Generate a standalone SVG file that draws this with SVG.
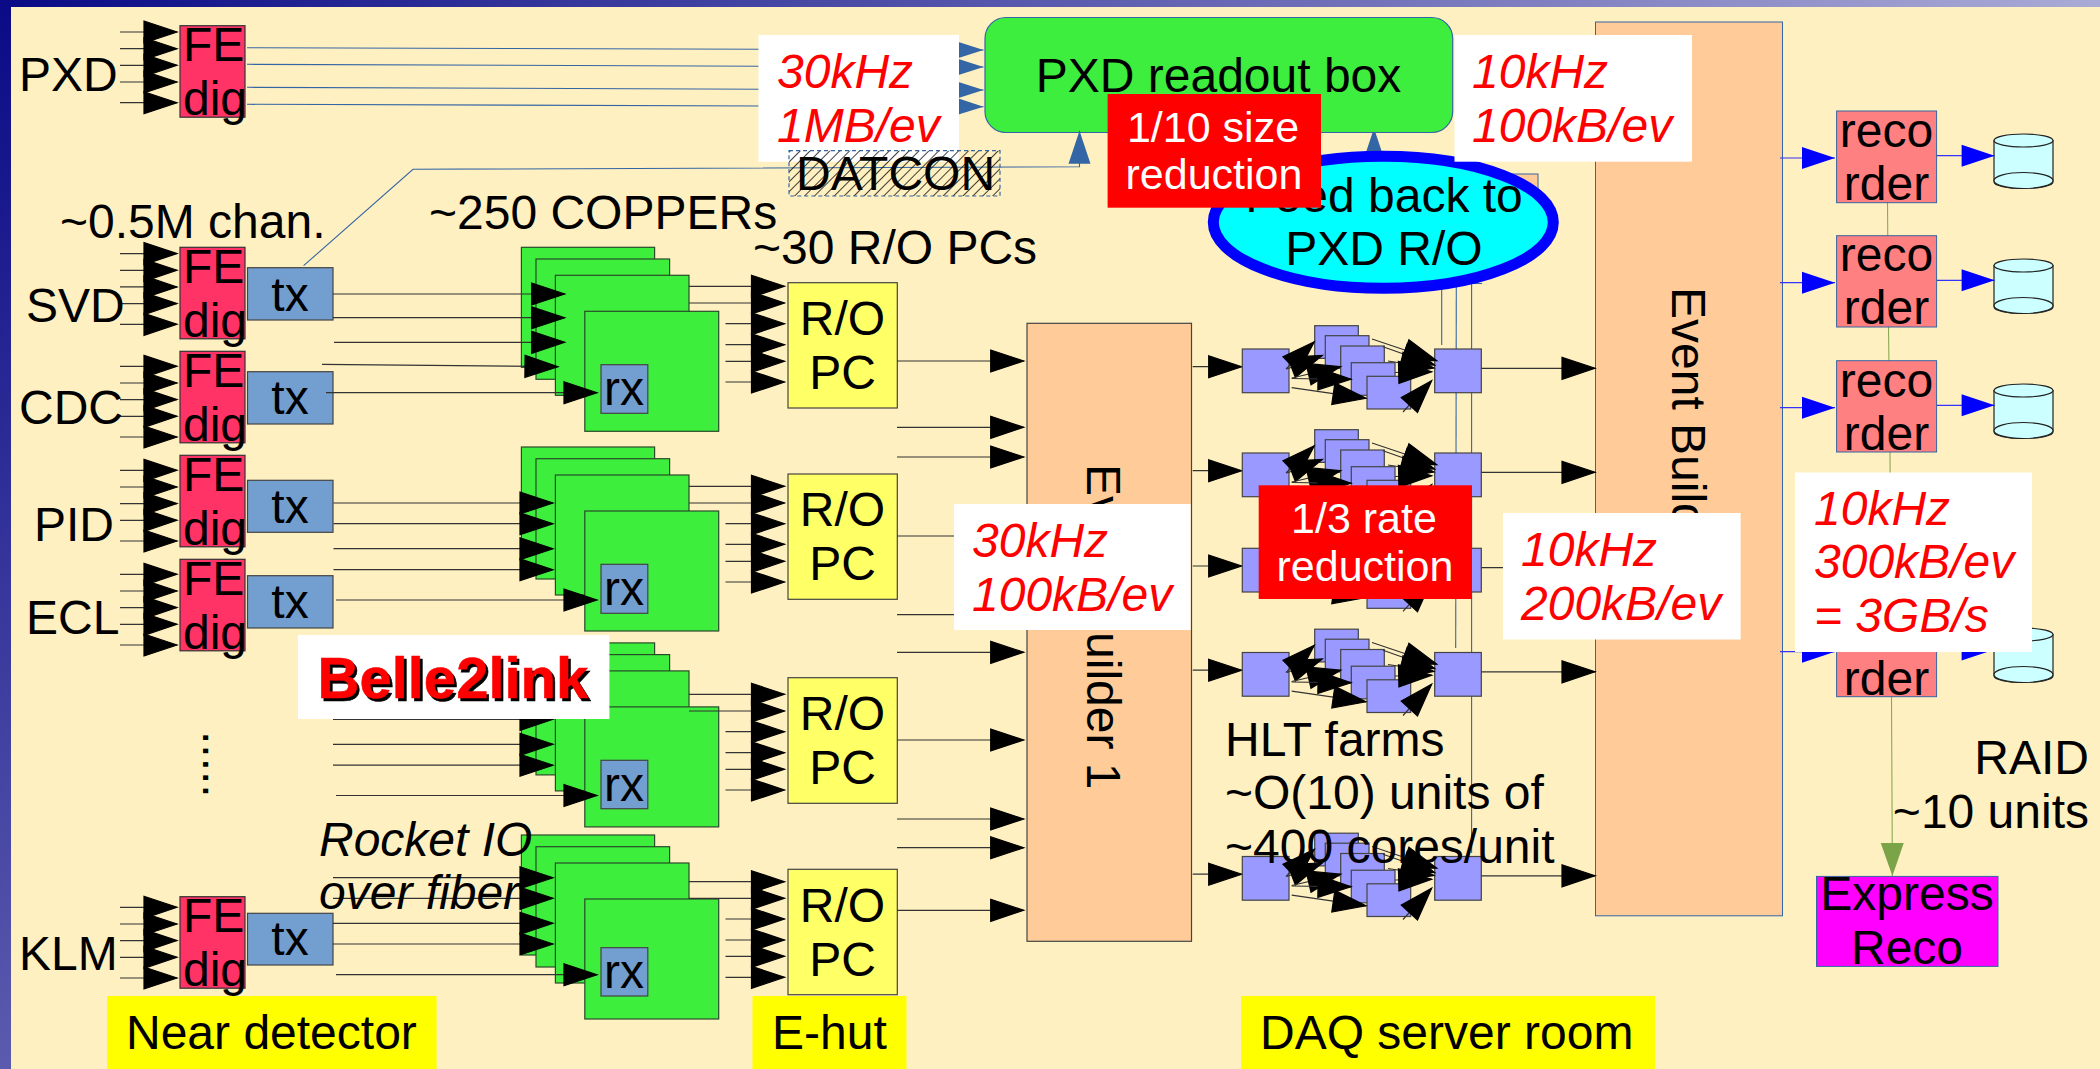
<svg xmlns="http://www.w3.org/2000/svg" xmlns:xlink="http://www.w3.org/1999/xlink" width="2100" height="1069" viewBox="0 0 2100 1069">
<style>
text{font-family:"Liberation Sans",Arial,sans-serif;font-size:48px;fill:#000}
.m{text-anchor:middle}
.r{fill:#f00;font-style:italic}
.i{font-style:italic}
.w{fill:#fff;font-size:43px;text-anchor:middle}
.fe{fill:#f36;stroke:#333;stroke-width:1.2}
.tx{fill:#729fcf;stroke:#444;stroke-width:1.2}
.cu{fill:#3dee3d;stroke:#2a4a2a;stroke-width:1.2}
.ro{fill:#ff6;stroke:#444;stroke-width:1.2}
.sq{fill:#99f;stroke:#444;stroke-width:1.2}
.pe{fill:#fc9;stroke:#3465a4;stroke-width:1}
.rec{fill:#ff8080;stroke:#3465a4;stroke-width:1}
.cy{fill:#cff;stroke:#222;stroke-width:1.2}
.lb{fill:#fff}
.rd{fill:#f00}
.ye{fill:#ff0}
.k{stroke:#333;stroke-width:1.2;fill:none;marker-end:url(#ak)}
.p{stroke:#333;stroke-width:1.2;fill:none}
.s{stroke:#3465a4;stroke-width:1.1;fill:none}
.sa{stroke:#3465a4;stroke-width:1.1;fill:none;marker-end:url(#as)}
.su{stroke:#3465a4;stroke-width:1.1;fill:none;marker-end:url(#au)}
.b{stroke:#33f;stroke-width:1.2;fill:none;marker-end:url(#ab)}
.g{stroke:#8aaa55;stroke-width:1.1;fill:none}
marker{overflow:visible}
</style>
<defs>
<linearGradient id="bg" gradientUnits="userSpaceOnUse" x1="0" y1="0" x2="1069" y2="1050"><stop offset="0" stop-color="#0a0a86"/><stop offset="1" stop-color="#aaaad6"/></linearGradient>
<marker id="ak" markerUnits="userSpaceOnUse" markerWidth="33" markerHeight="22" refX="33" refY="11" orient="auto"><path d="M0 0L33 11L0 22Z" fill="#000" stroke="#000" stroke-width="1.2"/></marker>
<marker id="ab" markerUnits="userSpaceOnUse" markerWidth="33" markerHeight="22" refX="33" refY="11" orient="auto"><path d="M0 0L33 11L0 22Z" fill="#00f"/></marker>
<marker id="au" markerUnits="userSpaceOnUse" markerWidth="33" markerHeight="22" refX="33" refY="11" orient="auto"><path d="M0 0L33 11L0 22Z" fill="#3465a4"/></marker>
<marker id="as" markerUnits="userSpaceOnUse" markerWidth="25" markerHeight="16" refX="25" refY="8" orient="auto"><path d="M0 0L25 8L0 16Z" fill="#3465a4"/></marker>
<marker id="ag" markerUnits="userSpaceOnUse" markerWidth="33" markerHeight="23" refX="33" refY="11.5" orient="auto"><path d="M0 0L33 11.5L0 23Z" fill="#7ba347"/></marker>
<pattern id="hatch" patternUnits="userSpaceOnUse" width="7" height="7" patternTransform="rotate(45)"><line x1="0" y1="0" x2="0" y2="7" stroke="#000" stroke-width="1.5"/></pattern>
<g id="stubs">
<line class="k" x1="120" y1="15" x2="177" y2="15"/><line class="k" x1="120" y1="31.7" x2="177" y2="31.7"/><line class="k" x1="120" y1="48.3" x2="177" y2="48.3"/><line class="k" x1="120" y1="65" x2="177" y2="65"/><line class="k" x1="120" y1="85.7" x2="177" y2="85.7"/>
</g>
<g id="fedig">
<rect class="fe" x="180" y="0" width="65" height="91.5"/>
<text x="183" y="35.5">FE</text><text x="183" y="89.5">dig</text>
</g>
<g id="copper">
<rect class="cu" x="521.4" y="247.3" width="133.2" height="120"/>
<rect class="cu" x="536" y="259" width="133.6" height="120.3"/>
<rect class="cu" x="555.4" y="275.3" width="133.6" height="120"/>
<rect class="cu" x="584.8" y="311.3" width="133.9" height="120"/>
</g>
<g id="hlt">
<line class="k" x1="1192.7" y1="366.7" x2="1241.7" y2="366.7"/>
<rect class="sq" x="1242.3" y="349" width="46.7" height="43.7"/>
<rect class="sq" x="1314.7" y="325.7" width="43.6" height="32.7"/>
<rect class="sq" x="1325.3" y="335.7" width="43.7" height="32.6"/>
<rect class="sq" x="1340.7" y="346" width="43.6" height="32.7"/>
<rect class="sq" x="1351.3" y="362.7" width="43.7" height="32.6"/>
<rect class="sq" x="1367" y="376.3" width="43.7" height="32.7"/>
<rect class="sq" x="1434.7" y="349" width="46.6" height="43.7"/>
<line class="k" x1="1286" y1="369" x2="1314.3" y2="341.7"/>
<line class="k" x1="1287" y1="369" x2="1322.3" y2="355.5"/>
<line class="k" x1="1291.7" y1="378" x2="1340.7" y2="366.7"/>
<line class="k" x1="1291.7" y1="378.5" x2="1351" y2="379.3"/>
<line class="k" x1="1291.7" y1="387.7" x2="1366" y2="398.3"/>
<line class="k" x1="1372" y1="339" x2="1436.7" y2="360.7"/>
<line class="k" x1="1383" y1="346.7" x2="1434.7" y2="365"/>
<line class="k" x1="1388" y1="361" x2="1434" y2="368"/>
<line class="k" x1="1395" y1="372.5" x2="1431.7" y2="371.7"/>
<line class="k" x1="1403" y1="412" x2="1431.7" y2="380.7"/>
<line class="k" x1="1481.3" y1="368.3" x2="1595" y2="368.3"/>
</g>
</defs>

<rect id="frame" width="2100" height="1069" fill="url(#bg)"/>
<rect id="background" x="11" y="7" width="2089" height="1062" fill="#fff0c1"/>

<g id="connectors-under">
<line class="su" x1="1374" y1="200" x2="1374" y2="128.3"/>
<line class="s" x1="1441.7" y1="283" x2="1441.7" y2="345"/>
<line class="s" x1="1456.3" y1="283" x2="1455.7" y2="648"/>
<line class="s" x1="1471.6" y1="283" x2="1471.6" y2="853"/>
<line class="s" x1="1471" y1="283.5" x2="1482" y2="283.5"/>
<polyline class="g" points="1887.5,202 1888.5,327 1890,452 1891.5,697 1892.4,876" style="marker-end:url(#ag)"/>
</g>

<g id="pe-back"><rect class="pe" x="1400" y="174" width="138" height="56"/></g>
<g id="pxd-box"><rect x="985" y="17.5" width="467.7" height="115" rx="21" fill="#3eee3e" stroke="#3465a4" stroke-width="1.2"/><text x="1218.5" y="92" class="m">PXD readout box</text></g>
<g id="feedback"><ellipse cx="1383.3" cy="222.3" rx="170" ry="66" fill="#0ff" stroke="#00f" stroke-width="11"/><text x="1384" y="211.7" class="m">Feed back to</text><text x="1384" y="265" class="m">PXD R/O</text></g>

<g id="fe-pxd"><use href="#stubs" y="17"/><use href="#fedig" y="25.7"/></g>
<text id="lbl-pxd" x="19" y="91">PXD</text>
<g id="fe-svd"><use href="#stubs" y="238.6"/><use href="#fedig" y="247.3"/></g>
<text id="lbl-svd" x="26" y="321.7">SVD</text>
<g id="fe-cdc"><use href="#stubs" y="351.3"/><use href="#fedig" y="351.3"/></g>
<text id="lbl-cdc" x="19" y="424">CDC</text>
<g id="fe-pid"><use href="#stubs" y="455.3"/><use href="#fedig" y="455.3"/></g>
<text id="lbl-pid" x="34" y="540.7">PID</text>
<g id="fe-ecl"><use href="#stubs" y="559.3"/><use href="#fedig" y="559.3"/></g>
<text id="lbl-ecl" x="26" y="634.3">ECL</text>
<g id="fe-klm"><use href="#stubs" y="892.3"/><use href="#fedig" y="896.7"/></g>
<text id="lbl-klm" x="19" y="970">KLM</text>

<g id="tx-svd"><rect class="tx" x="247.5" y="267.7" width="85.5" height="52.3"/><text class="m" x="290" y="310.7">tx</text></g>
<g id="tx-cdc"><rect class="tx" x="247.5" y="371.7" width="85.5" height="52.3"/><text class="m" x="290" y="414.3">tx</text></g>
<g id="tx-pid"><rect class="tx" x="247.5" y="480.3" width="85.5" height="52"/><text class="m" x="290" y="522.7">tx</text></g>
<g id="tx-ecl"><rect class="tx" x="247.5" y="575.7" width="85.5" height="52.3"/><text class="m" x="290" y="618.3">tx</text></g>
<g id="tx-klm"><rect class="tx" x="247.5" y="913.3" width="85.5" height="51.7"/><text class="m" x="290" y="955">tx</text></g>

<g id="copper-1"><use href="#copper"/><rect class="tx" x="601" y="364.7" width="46.8" height="48.6"/><text class="m" x="624" y="405">rx</text></g>
<g id="copper-2"><use href="#copper" y="199.7"/><rect class="tx" x="601" y="564.3" width="46.8" height="49"/><text class="m" x="624" y="604.7">rx</text></g>
<g id="copper-3"><use href="#copper" y="395.6"/><rect class="tx" x="601" y="760.3" width="46.8" height="48.4"/><text class="m" x="624" y="800.6">rx</text></g>
<g id="copper-4"><use href="#copper" y="587.7"/><rect class="tx" x="601" y="947.7" width="46.8" height="48.3"/><text class="m" x="624" y="988">rx</text></g>

<g id="ro-1"><rect class="ro" x="788" y="282.7" width="109.3" height="125.3"/><text class="m" x="842.5" y="335">R/O</text><text class="m" x="842.5" y="389">PC</text></g>
<g id="ro-2"><rect class="ro" x="788" y="474" width="109.3" height="125.3"/><text class="m" x="842.5" y="526.3">R/O</text><text class="m" x="842.5" y="580.3">PC</text></g>
<g id="ro-3"><rect class="ro" x="788" y="677.7" width="109.3" height="125.6"/><text class="m" x="842.5" y="730">R/O</text><text class="m" x="842.5" y="784">PC</text></g>
<g id="ro-4"><rect class="ro" x="788" y="869.3" width="109.3" height="125.4"/><text class="m" x="842.5" y="922">R/O</text><text class="m" x="842.5" y="976.3">PC</text></g>

<g id="eb1"><rect x="1027" y="323.3" width="164.5" height="618" fill="#fc9" stroke="#444" stroke-width="1.2"/><text transform="translate(1087 464) rotate(90)">Event Builder 1</text></g>
<g id="eb2"><rect class="pe" x="1595.5" y="22" width="187" height="893.8"/><text transform="translate(1672 287) rotate(90)">Event Builder 2</text></g>

<g id="hlt-1"><use href="#hlt"/></g>
<g id="hlt-2"><use href="#hlt" y="104"/></g>
<g id="hlt-3"><use href="#hlt" y="199.3"/></g>
<g id="hlt-4"><use href="#hlt" y="303.5"/></g>
<g id="hlt-5"><use href="#hlt" y="507.5"/></g>

<g id="rec-1"><rect class="rec" x="1836.6" y="111" width="100" height="91.7"/><text class="m" x="1886.5" y="146.7">reco</text><text class="m" x="1886.5" y="200">rder</text></g>
<g id="rec-2"><rect class="rec" x="1836.6" y="235.7" width="100" height="91.3"/><text class="m" x="1886.5" y="271">reco</text><text class="m" x="1886.5" y="324.3">rder</text></g>
<g id="rec-3"><rect class="rec" x="1836.6" y="360.7" width="100" height="91.3"/><text class="m" x="1886.5" y="396.7">reco</text><text class="m" x="1886.5" y="450">rder</text></g>
<g id="rec-4"><rect class="rec" x="1836.6" y="605" width="100" height="91.7"/><text class="m" x="1886.5" y="694.8">rder</text></g>

<g id="disk-1"><path class="cy" d="M1994 140.5V182A29.5 6.5 0 0 0 2053 182V140.5Z"/><ellipse class="cy" cx="2023.5" cy="140.5" rx="29.5" ry="6.5"/><ellipse class="cy" cx="2023.5" cy="180.5" rx="29.5" ry="8"/></g>
<g id="disk-2"><path class="cy" d="M1994 265.5V307A29.5 6.5 0 0 0 2053 307V265.5Z"/><ellipse class="cy" cx="2023.5" cy="265.5" rx="29.5" ry="6.5"/><ellipse class="cy" cx="2023.5" cy="305.5" rx="29.5" ry="8"/></g>
<g id="disk-3"><path class="cy" d="M1994 390.5V432A29.5 6.5 0 0 0 2053 432V390.5Z"/><ellipse class="cy" cx="2023.5" cy="390.5" rx="29.5" ry="6.5"/><ellipse class="cy" cx="2023.5" cy="430.5" rx="29.5" ry="8"/></g>
<g id="disk-4"><path class="cy" d="M1994 634.5V676A29.5 6.5 0 0 0 2053 676V634.5Z"/><ellipse class="cy" cx="2023.5" cy="634.5" rx="29.5" ry="6.5"/><ellipse class="cy" cx="2023.5" cy="674.5" rx="29.5" ry="8"/></g>

<g id="express"><rect x="1816.5" y="876.4" width="181.5" height="90" fill="#f0f" stroke="#3465a4" stroke-width="1"/><text class="m" x="1907" y="910">Express</text><text class="m" x="1907" y="964.4">Reco</text></g>

<g id="connectors">
<line class="sa" x1="247" y1="47.7" x2="983.5" y2="50"/>
<line class="sa" x1="247" y1="64.3" x2="983.5" y2="67"/>
<line class="sa" x1="247" y1="87.3" x2="983.5" y2="90"/>
<line class="sa" x1="247" y1="104.3" x2="983.5" y2="106.7"/>
<polyline class="su" points="303.6,265.7 413,169.3 1079.5,166.7 1079.5,130.7"/>

<line class="k" x1="333" y1="294" x2="564.7" y2="294"/>
<line class="k" x1="333" y1="317.7" x2="564.7" y2="317.7"/>
<line class="k" x1="334" y1="342.3" x2="564.7" y2="342.3"/>
<line class="k" x1="322" y1="364.3" x2="558" y2="366.7"/>
<line class="k" x1="326" y1="392.7" x2="597" y2="392.7"/>
<line class="k" x1="333.5" y1="503" x2="553" y2="503"/>
<line class="k" x1="333.5" y1="523.7" x2="553" y2="523.7"/>
<line class="k" x1="333.5" y1="548.7" x2="553" y2="548.7"/>
<line class="k" x1="333.5" y1="569.7" x2="553" y2="569.7"/>
<line class="k" x1="336" y1="600" x2="597" y2="600"/>
<line class="k" x1="333" y1="719.3" x2="553" y2="719.3"/>
<line class="k" x1="333" y1="744.3" x2="553" y2="744.3"/>
<line class="k" x1="333" y1="765.2" x2="553" y2="765.2"/>
<line class="k" x1="336" y1="795.5" x2="597" y2="795.5"/>
<line class="k" x1="333" y1="877.7" x2="553" y2="877.7"/>
<line class="k" x1="333" y1="898.3" x2="553" y2="898.3"/>
<line class="k" x1="333" y1="923.3" x2="553" y2="923.3"/>
<line class="k" x1="333" y1="944" x2="553" y2="944"/>
<line class="k" x1="336" y1="974.7" x2="597" y2="974.7"/>

<line class="k" x1="689" y1="286.3" x2="784.5" y2="286.3"/>
<line class="k" x1="689" y1="303" x2="784.5" y2="303"/>
<line class="k" x1="725.5" y1="323.7" x2="784.5" y2="323.7"/>
<line class="k" x1="725.5" y1="344.7" x2="784.5" y2="344.7"/>
<line class="k" x1="725.5" y1="361.3" x2="784.5" y2="361.3"/>
<line class="k" x1="725.5" y1="382" x2="784.5" y2="382"/>
<line class="k" x1="689" y1="486.3" x2="784.5" y2="486.3"/>
<line class="k" x1="689" y1="503" x2="784.5" y2="503"/>
<line class="k" x1="725.5" y1="523.7" x2="784.5" y2="523.7"/>
<line class="k" x1="725.5" y1="544.3" x2="784.5" y2="544.3"/>
<line class="k" x1="725.5" y1="561.3" x2="784.5" y2="561.3"/>
<line class="k" x1="725.5" y1="582" x2="784.5" y2="582"/>
<line class="k" x1="689" y1="694.3" x2="784.5" y2="694.3"/>
<line class="k" x1="689" y1="711" x2="784.5" y2="711"/>
<line class="k" x1="725.5" y1="731.7" x2="784.5" y2="731.7"/>
<line class="k" x1="725.5" y1="752.7" x2="784.5" y2="752.7"/>
<line class="k" x1="725.5" y1="769.3" x2="784.5" y2="769.3"/>
<line class="k" x1="725.5" y1="790" x2="784.5" y2="790"/>
<line class="k" x1="689" y1="881.7" x2="784.5" y2="881.7"/>
<line class="k" x1="689" y1="898.3" x2="784.5" y2="898.3"/>
<line class="k" x1="725.5" y1="919" x2="784.5" y2="919"/>
<line class="k" x1="725.5" y1="940" x2="784.5" y2="940"/>
<line class="k" x1="725.5" y1="956.3" x2="784.5" y2="956.3"/>
<line class="k" x1="725.5" y1="977.3" x2="784.5" y2="977.3"/>

<line class="k" x1="897" y1="361" x2="1023.7" y2="361"/>
<line class="k" x1="897" y1="427.3" x2="1023.7" y2="427.3"/>
<line class="k" x1="897" y1="457" x2="1023.7" y2="457"/>
<line class="p" x1="897" y1="536" x2="960" y2="536"/>
<line class="p" x1="897" y1="614.7" x2="960" y2="614.7"/>
<line class="k" x1="897" y1="652.3" x2="1023.7" y2="652.3"/>
<line class="k" x1="897" y1="740" x2="1023.7" y2="740"/>
<line class="k" x1="897" y1="819" x2="1023.7" y2="819"/>
<line class="k" x1="897" y1="847.7" x2="1023.7" y2="847.7"/>
<line class="k" x1="897" y1="910.3" x2="1023.7" y2="910.3"/>

<line class="b" x1="1780" y1="158" x2="1835" y2="158"/>
<line class="b" x1="1780" y1="282.7" x2="1835" y2="282.7"/>
<line class="b" x1="1780" y1="407.7" x2="1835" y2="407.7"/>
<line class="b" x1="1780" y1="651.7" x2="1835" y2="651.7"/>
<line class="b" x1="1937" y1="155.7" x2="1994.6" y2="155.7"/>
<line class="b" x1="1937" y1="280.3" x2="1994.6" y2="280.3"/>
<line class="b" x1="1937" y1="405.3" x2="1994.6" y2="405.3"/>
<line class="b" x1="1937" y1="649.5" x2="1994.6" y2="649.5"/>
</g>

<text id="lbl-chan" x="60" y="238.3">~0.5M chan.</text>
<text id="lbl-coppers" x="429" y="229.3">~250 COPPERs</text>
<text id="lbl-ropcs" x="753" y="264">~30 R/O PCs</text>
<text id="lbl-dots" transform="translate(202.5 731) rotate(90)">.....</text>
<text id="lbl-rocket1" class="i" x="319" y="856">Rocket IO</text>
<text id="lbl-rocket2" class="i" x="319" y="909">over fiber</text>
<text id="lbl-hlt1" x="1225" y="756">HLT farms</text>
<text id="lbl-hlt2" x="1225" y="809">~O(10) units of</text>
<text id="lbl-hlt3" x="1225" y="862.5">~400 cores/unit</text>
<text id="lbl-raid1" x="2089" y="773.7" style="text-anchor:end">RAID</text>
<text id="lbl-raid2" x="2089" y="827.8" style="text-anchor:end">~10 units</text>

<g id="rate-a"><rect class="lb" x="758.5" y="35" width="200.5" height="126.7"/><text class="r" x="777" y="87.7">30kHz</text><text class="r" x="777" y="141.7">1MB/ev</text></g>
<g id="datcon"><rect x="789" y="150.7" width="211" height="45.3" fill="url(#hatch)" stroke="#3465a4" stroke-width="1.2" stroke-dasharray="4 3"/><text x="796" y="189.8">DATCON</text></g>
<g id="rate-b"><rect class="lb" x="1454.5" y="35" width="237.5" height="126.7"/><text class="r" x="1472" y="87.7">10kHz</text><text class="r" x="1472" y="141.7">100kB/ev</text></g>
<g id="rate-c"><rect class="lb" x="954" y="504" width="236.6" height="126"/><text class="r" x="972" y="556.7">30kHz</text><text class="r" x="972" y="610.7">100kB/ev</text></g>
<g id="rate-d"><rect class="lb" x="1503" y="513" width="237.6" height="126.5"/><text class="r" x="1521" y="565.7">10kHz</text><text class="r" x="1521" y="619.7">200kB/ev</text></g>
<g id="rate-e"><rect class="lb" x="1795" y="472.5" width="237" height="179.5"/><text class="r" x="1814" y="525">10kHz</text><text class="r" x="1814" y="578.3">300kB/ev</text><text class="r" x="1814" y="631.6">= 3GB/s</text></g>

<g id="reduce-size"><rect class="rd" x="1107.6" y="94" width="213.4" height="113.7"/><text class="w" x="1213" y="141.7">1/10 size</text><text class="w" x="1214" y="189.3">reduction</text></g>
<g id="reduce-rate"><rect class="rd" x="1258.7" y="485.3" width="213.3" height="113.7"/><text class="w" x="1364" y="533">1/3 rate</text><text class="w" x="1365" y="580.6">reduction</text></g>

<g id="belle2link"><rect class="lb" x="298" y="635" width="311.4" height="84"/><text x="320" y="700.5" style="font-size:58px;font-weight:bold;fill:#000;stroke:#000;stroke-width:.6">Belle2link</text><text x="317.5" y="698" style="font-size:58px;font-weight:bold;fill:#f00;stroke:#f00;stroke-width:.6">Belle2link</text></g>

<g id="loc-near"><rect class="ye" x="107" y="996" width="329.6" height="73"/><text x="126" y="1048.8">Near detector</text></g>
<g id="loc-ehut"><rect class="ye" x="752.5" y="996" width="154" height="73"/><text x="772" y="1048.8">E-hut</text></g>
<g id="loc-daq"><rect class="ye" x="1241" y="996" width="414" height="73"/><text x="1260" y="1048.8">DAQ server room</text></g>
</svg>
